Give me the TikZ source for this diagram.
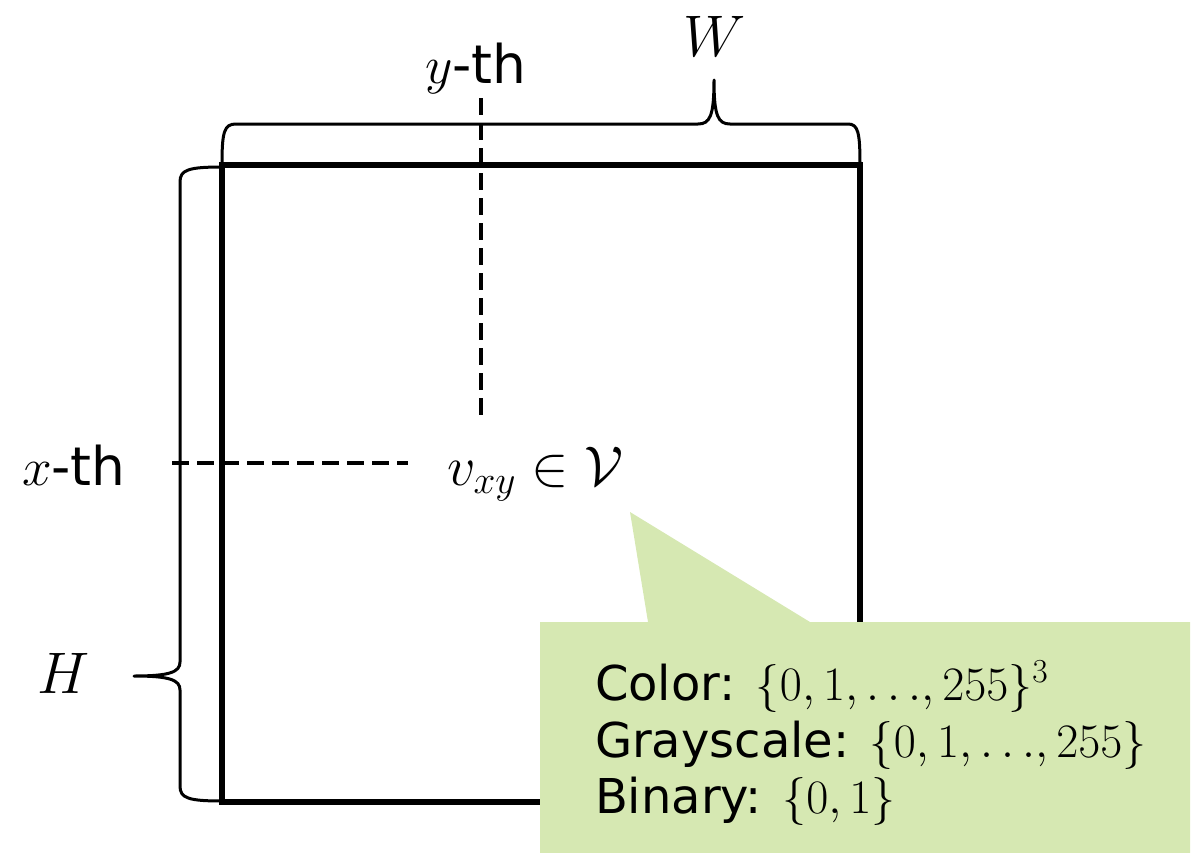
\documentclass[tikz,border=0pt]{standalone}
\usepackage{fix-cm}
\usepackage{fontspec}
\newfontfamily\vfont{DejaVu Sans}
\definecolor{callgreen}{RGB}{214,232,178}
\tikzset{
  lbl/.style={inner sep=0pt, outer sep=0pt, anchor=base west, font=\fontsize{40pt}{48pt}\selectfont\vfont},
  big/.style={inner sep=0pt, outer sep=0pt, anchor=base west, font=\fontsize{44pt}{52pt}\selectfont},
  ctext/.style={inner sep=0pt, outer sep=0pt, anchor=base west, font=\fontsize{36pt}{43pt}\selectfont\vfont},
  frame/.style={line width=4.8pt, line cap=rect},
  bracepath/.style={line width=2.25pt, line cap=round, line join=round},
  guide/.style={line width=3.3pt, dash pattern=on 12.75pt off 6pt}
}
\begin{document}
\begin{tikzpicture}[x=0.75pt,y=-0.75pt]
\useasboundingbox (0,0) rectangle (1197,853);
% image frame
\draw[frame] (222,165) rectangle (860,802);
% W brace
\draw[bracepath] (222,165) .. controls (222,132) and (224,124) .. (236,124) -- (698,124)
  .. controls (710,124) and (714,116) .. (714,80)
  .. controls (714,116) and (718,124) .. (730,124) -- (848,124)
  .. controls (858,124) and (860,132) .. (860,165);
% H brace
\draw[bracepath] (222,167) .. controls (188,167) and (180,170) .. (180,182) -- (180,662)
  .. controls (180,672) and (170,676) .. (134,676)
  .. controls (170,676) and (180,680) .. (180,690) -- (180,786)
  .. controls (180,798) and (188,801) .. (222,801);
% labels
\node[big] (W) at (683,56) {$W$};
\node[big] (H) at (37,693) {$H$};
\node[lbl] (yth) at (425,83) {$y$-th};
\node[lbl] (xth) at (22,485) {$x$-th};
\node[big, font=\fontsize{42pt}{50pt}\selectfont] (v) at (447,485) {$v_{xy}\in\mathcal{V}$};
% guides
\coordinate (vtop) at (481,98);
\coordinate (vbot) at (481,418);
\coordinate (hl) at (172,463);
\coordinate (hr) at (408,463);
\draw[guide] (vtop) -- (vbot);
\draw[guide] (hl) -- (hr);
% callout
\fill[callgreen] (540,622) -- (648,622) -- (630,512) -- (810,622) -- (1190,622) -- (1190,853) -- (540,853) -- cycle;
\node[ctext] (c1) at (595,700) {Color: $\{0,1,{\ldots},255\}^3$};
\node[ctext] (c2) at (595,757) {Grayscale: $\{0,1,{\ldots},255\}$};
\node[ctext] (c3) at (595,813) {Binary: $\{0,1\}$};
\end{tikzpicture}
\end{document}
